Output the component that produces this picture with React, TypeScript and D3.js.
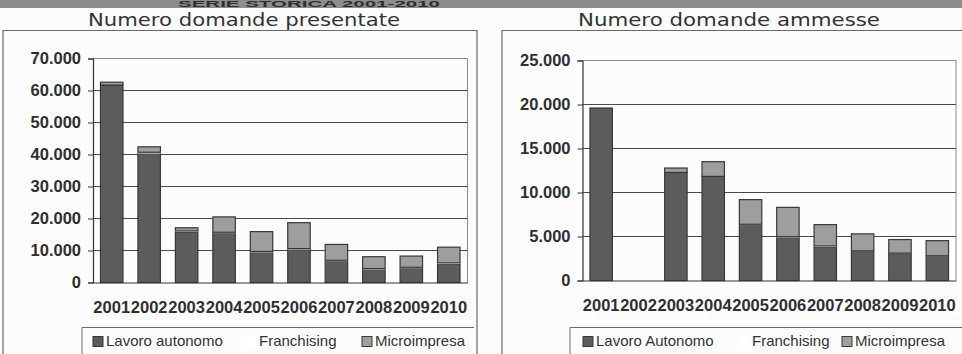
import { useEffect, useRef } from "react";
import * as d3 from "d3";

// categories + series
const YEARS = ["2001", "2002", "2003", "2004", "2005", "2006", "2007", "2008", "2009", "2010"];
const SERIES = ["Lavoro", "Franchising", "Microimpresa"];

const PRES_LAVORO = [61700, 40300, 15800, 15400, 9400, 10300, 6650, 4060, 4460, 5840];
const PRES_FRANCH = [0, 400, 300, 300, 300, 300, 300, 300, 300, 300];
const PRES_MICRO = [900, 1700, 1000, 4800, 6200, 8100, 4950, 3700, 3500, 4900];

const AMM_LAVORO = [19600, 0, 12280, 11830, 6290, 4880, 3830, 3320, 3060, 2760];
const AMM_FRANCH = [0, 0, 0, 0, 100, 100, 100, 50, 50, 50];
const AMM_MICRO = [0, 0, 500, 1670, 2800, 3330, 2420, 1930, 1540, 1720];

const PRES_TICKS = [0, 10000, 20000, 30000, 40000, 50000, 60000, 70000];
const AMM_TICKS = [0, 5000, 10000, 15000, 20000, 25000];

const LEGEND_PRES = ["Lavoro autonomo", "Franchising", "Microimpresa"];
const LEGEND_AMM = ["Lavoro Autonomo", "Franchising", "Microimpresa"];

const FILLS = ["#5c5c5c", "#ffffff", "#9e9e9e"];
const EDGE = "#383838";

const itFormat = d3.formatLocale({
  decimal: ",",
  thousands: ".",
  grouping: [3],
  currency: ["", "€"],
}).format(",");

interface Panel {
  title: string;
  titleX: number;
  titleLen: number;
  box: [number, number];
  plotX: [number, number];
  plotY: [number, number];
  ticks: number[];
  lavoro: number[];
  franch: number[];
  micro: number[];
  legend: string[];
  legendBox: number;
  legendX: number[];
}

const PANELS: Panel[] = [
  {
    title: "Numero domande presentate",
    titleX: 88,
    titleLen: 312,
    box: [3, 477],
    plotX: [93, 467.5],
    plotY: [282.5, 58.5],
    ticks: PRES_TICKS,
    lavoro: PRES_LAVORO,
    franch: PRES_FRANCH,
    micro: PRES_MICRO,
    legend: LEGEND_PRES,
    legendBox: 82,
    legendX: [93, 246, 362],
  },
  {
    title: "Numero domande ammesse",
    titleX: 578,
    titleLen: 302,
    box: [502, 990],
    plotX: [582.5, 956],
    plotY: [280.5, 60.5],
    ticks: AMM_TICKS,
    lavoro: AMM_LAVORO,
    franch: AMM_FRANCH,
    micro: AMM_MICRO,
    legend: LEGEND_AMM,
    legendBox: 570,
    legendX: [583, 739, 842],
  },
];

export default function App() {
  const svgRef = useRef<SVGSVGElement>(null);
  const width = 962;
  const height = 354;

  useEffect(() => {
    if (!svgRef.current) return;
    const svg = d3.select(svgRef.current);
    svg.selectAll("*").remove();

    svg.append("rect").attr("width", width).attr("height", height).attr("fill", "#fcfcfc");

    // banner strip at the top of the scan
    svg.append("rect").attr("x", 0).attr("y", 0).attr("width", width).attr("height", 8).attr("fill", "#8d8d8d");
    svg.append("text")
      .attr("x", 178)
      .attr("y", 7)
      .attr("font-family", "Liberation Sans, Arial, sans-serif")
      .attr("font-weight", "bold")
      .attr("font-size", "9px")
      .attr("fill", "#2e2e2e")
      .attr("textLength", 262)
      .attr("lengthAdjust", "spacingAndGlyphs")
      .text("SERIE STORICA 2001-2010");

    PANELS.forEach((p) => {
      const g = svg.append("g");

      // outer frame
      g.append("path")
        .attr("d", `M${p.box[0]},${height + 2}V30.5H${p.box[1]}V${height + 2}`)
        .attr("fill", "none")
        .attr("stroke", "#6a6a6a")
        .attr("stroke-width", 1.2);

      g.append("text")
        .attr("x", p.titleX)
        .attr("y", 26)
        .attr("font-family", "DejaVu Sans, sans-serif")
        .attr("font-size", "18px")
        .attr("fill", "#333")
        .attr("textLength", p.titleLen)
        .attr("lengthAdjust", "spacingAndGlyphs")
        .text(p.title);

      const x = d3.scaleBand().domain(YEARS).range(p.plotX).paddingInner(0.4).paddingOuter(0.2);
      const yMax = p.ticks[p.ticks.length - 1];
      const y = d3.scaleLinear().domain([0, yMax]).range(p.plotY);

      // plot border (top + right)
      g.append("path")
        .attr("d", `M${p.plotX[0]},${y(yMax)}H${p.plotX[1]}V${y(0)}`)
        .attr("fill", "none")
        .attr("stroke", "#8a8a8a")
        .attr("stroke-width", 1);

      // gridlines
      p.ticks.slice(1, -1).forEach((t) => {
        g.append("line")
          .attr("x1", p.plotX[0])
          .attr("x2", p.plotX[1])
          .attr("y1", y(t))
          .attr("y2", y(t))
          .attr("stroke", "#4a4a4a")
          .attr("stroke-width", 1.1);
      });

      // stacked bars
      const rows = YEARS.map((yr, i) => ({
        year: yr,
        Lavoro: p.lavoro[i],
        Franchising: p.franch[i],
        Microimpresa: p.micro[i],
      }));
      const stacked = d3.stack<any>().keys(SERIES)(rows);

      stacked.forEach((layer, li) => {
        g.append("g")
          .selectAll("rect")
          .data(layer.filter((d) => d[1] - d[0] > 0))
          .join("rect")
          .attr("x", (d) => x(d.data.year) ?? 0)
          .attr("y", (d) => y(d[1]))
          .attr("width", x.bandwidth())
          .attr("height", (d) => y(d[0]) - y(d[1]))
          .attr("fill", FILLS[li])
          .attr("stroke", li === 1 ? "none" : EDGE)
          .attr("stroke-width", 1.2);
      });

      // y axis
      const yAxis = g.append("g")
        .attr("transform", `translate(${p.plotX[0]},0)`)
        .call(d3.axisLeft(y).tickValues(p.ticks).tickSize(5).tickPadding(7).tickFormat((d) => itFormat(d as number)));
      yAxis.select(".domain").attr("stroke", "#333").attr("stroke-width", 1.2);
      yAxis.selectAll(".tick line").attr("stroke", "#333");
      yAxis.selectAll("text")
        .attr("font-family", "Liberation Sans, Arial, sans-serif")
        .attr("font-weight", "bold")
        .attr("font-size", "16.5px")
        .attr("fill", "#2f2f2f");

      // x axis
      const xAxis = g.append("g")
        .attr("transform", `translate(0,${y(0)})`)
        .call(d3.axisBottom(x).tickSize(0).tickPadding(19));
      xAxis.select(".domain").attr("stroke", "#333").attr("stroke-width", 1.2);
      xAxis.selectAll("text")
        .attr("font-family", "Liberation Sans, Arial, sans-serif")
        .attr("font-weight", "bold")
        .attr("font-size", "16.5px")
        .attr("fill", "#2f2f2f");

      // legend
      g.append("path")
        .attr("d", `M${p.legendBox},${height + 2}V327.5H${p.box[1] - 3}`)
        .attr("fill", "none")
        .attr("stroke", "#6a6a6a")
        .attr("stroke-width", 1);

      p.legend.forEach((lab, i) => {
        const lx = p.legendX[i];
        g.append("rect")
          .attr("x", lx)
          .attr("y", 336.5)
          .attr("width", 10)
          .attr("height", 10)
          .attr("fill", FILLS[i])
          .attr("stroke", i === 1 ? "none" : EDGE)
          .attr("stroke-width", 1);
        g.append("text")
          .attr("x", lx + 13)
          .attr("y", 346)
          .attr("font-family", "Liberation Sans, Arial, sans-serif")
          .attr("font-size", "15px")
          .attr("fill", "#333")
          .text(lab);
      });
    });
  }, []);

  return (
    <svg
      ref={svgRef}
      width={width}
      height={height}
      style={{ position: "absolute", left: 0, top: 0 }}
    />
  );
}
